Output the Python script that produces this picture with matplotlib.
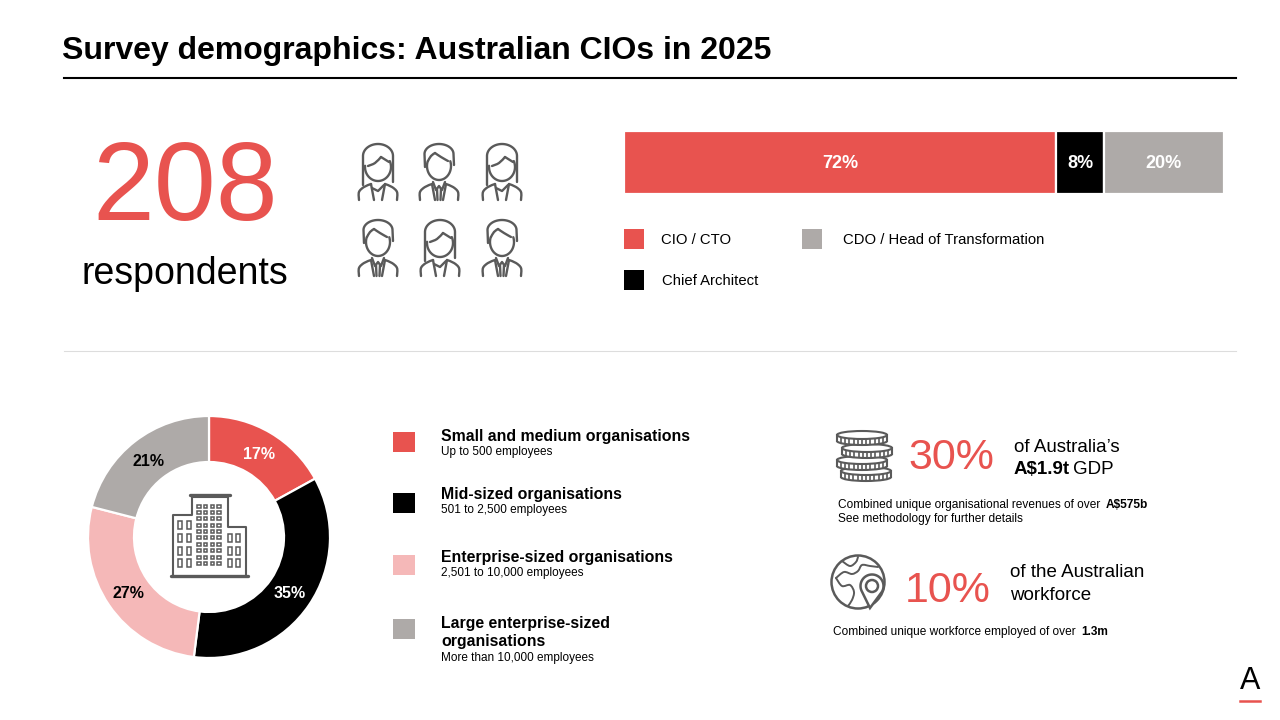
import matplotlib
matplotlib.use("Agg")
import matplotlib.pyplot as plt
from matplotlib.patches import Circle, Ellipse, Rectangle, PathPatch, Polygon
from matplotlib.path import Path
import numpy as np

plt.rcParams["font.family"] = ["Liberation Sans", "DejaVu Sans"]

RED = "#E8534F"
PINK = "#F5B8B8"
GREY = "#AEAAA8"
BLACK = "#000000"
ICON = "#5A5A5A"

role_names = ["CIO / CTO", "Chief Architect", "CDO / Head of Transformation"]
role_values = [72, 8, 20]
role_colors = [RED, BLACK, GREY]

size_names = ["Small and medium organisations", "Mid-sized organisations",
              "Enterprise-sized organisations", "Large enterprise-sized\norganisations"]
size_notes = ["Up to 500 employees", "501 to 2,500 employees",
              "2,501 to 10,000 employees", "More than 10,000 employees"]
size_values = [17, 35, 27, 21]
size_colors = [RED, BLACK, PINK, GREY]

fig = plt.figure(figsize=(12.8, 7.2), dpi=100, facecolor="white")

# whole page in pixel coords, y going down
ax = fig.add_axes([0, 0, 1, 1])
ax.set_xlim(0, 1280)
ax.set_ylim(720, 0)
ax.axis("off")


def sub_axes(x0, y0, x1, y1):
    return fig.add_axes([x0 / 1280, 1 - y1 / 720, (x1 - x0) / 1280, (y1 - y0) / 720])


def label(x, y, s, size, weight="normal", color="black", ha="left", **kw):
    # va=center sits a bit high for this font, nudge it down
    ax.text(x, y + size * 0.13, s, fontsize=size, fontweight=weight, color=color, ha=ha, va="center", **kw)


def curve(points, lw=1.7, color=ICON):
    pts = np.array(points, dtype=float)
    verts = [pts[0]]
    codes = [Path.MOVETO]
    for i in range(len(pts) - 1):
        p0 = pts[max(i - 1, 0)]
        p1 = pts[i]
        p2 = pts[i + 1]
        p3 = pts[min(i + 2, len(pts) - 1)]
        verts += [p1 + (p2 - p0) / 6, p2 - (p3 - p1) / 6, p2]
        codes += [Path.CURVE4] * 3
    ax.add_patch(PathPatch(Path(verts, codes), fill=False, ec=color, lw=lw, capstyle="round"))


def line(points, lw=1.7, color=ICON):
    pts = np.array(points, dtype=float)
    ax.plot(pts[:, 0], pts[:, 1], color=color, lw=lw, solid_capstyle="round")


def arc_pts(cx, cy, rx, ry, a0, a1):
    a = np.deg2rad(np.linspace(a0, a1, 40))
    return np.column_stack([cx + rx * np.cos(a), cy + ry * np.sin(a)])


def torso(cx, top):
    curve([(cx - 19, top + 56), (cx - 19, top + 48), (cx - 14, top + 43), (cx - 7, top + 40)])
    curve([(cx + 19, top + 56), (cx + 19, top + 48), (cx + 14, top + 43), (cx + 7, top + 40)])
    line([(cx - 7, top + 40), (cx - 4, top + 56)])
    line([(cx + 7, top + 40), (cx + 4, top + 56)])


def woman(cx, top):
    line(arc_pts(cx, top + 23, 13, 14, -25, 185))
    curve([(cx - 10, top + 22), (cx - 3, top + 19), (cx + 3, top + 13)])
    line([(cx + 3, top + 13), (cx + 11, top + 18)])
    hair = np.vstack([[(cx - 15, top + 41)], arc_pts(cx, top + 12, 15, 12, 180, 360), [(cx + 15, top + 38)]])
    line(hair)
    torso(cx, top)
    line([(cx - 6, top + 44), (cx, top + 47), (cx + 6, top + 41)])


def man(cx, top):
    line(arc_pts(cx, top + 22, 12, 14, -20, 200))
    curve([(cx - 11, top + 17), (cx - 8, top + 12), (cx - 4, top + 9)])
    curve([(cx - 4, top + 9), (cx + 2, top + 13), (cx + 9, top + 17)])
    hair = np.vstack([[(cx - 14, top + 23)], arc_pts(cx, top + 10, 14.5, 10, 180, 360), [(cx + 15, top + 21)]])
    line(hair)
    torso(cx, top)
    line([(cx - 6, top + 38), (cx - 3, top + 46), (cx, top + 42), (cx + 3, top + 46), (cx + 6, top + 38)])
    line([(cx - 2, top + 45), (cx - 1.5, top + 56)])
    line([(cx + 2, top + 45), (cx + 1.5, top + 56)])


def building():
    lw = 1.5
    line([(173, 575), (173, 515), (192, 515), (192, 497), (228, 497), (228, 527), (246, 527), (246, 575)], lw)
    line([(190, 495), (230, 495)], 2.4)
    line([(171, 576), (248, 576)], 2.4)
    for wx in [199, 205.7, 212.3, 219]:
        for wy in np.arange(506, 570, 6.4):
            ax.add_patch(Rectangle((wx - 1.7, wy - 1.5), 3.4, 3, fc="white", ec=ICON, lw=1.1))
    for wx in [180, 189]:
        for wy in [525, 538, 551, 563]:
            ax.add_patch(Rectangle((wx - 2, wy - 4), 4, 8, fc="white", ec=ICON, lw=1.1))
    for wx in [229.5, 238]:
        for wy in [538, 551, 563]:
            ax.add_patch(Rectangle((wx - 2, wy - 4), 4, 8, fc="white", ec=ICON, lw=1.1))


def coin(cx, cy, z):
    w, h, side = 50, 8, 6
    ax.add_patch(Ellipse((cx, cy + side), w, h, fc="white", ec=ICON, lw=1.5, zorder=z))
    ax.add_patch(Rectangle((cx - w / 2, cy), w, side, fc="white", ec="none", zorder=z + 0.1))
    for side_x in [cx - w / 2, cx + w / 2]:
        ax.plot([side_x, side_x], [cy, cy + side], color=ICON, lw=1.5, zorder=z + 0.2)
    for lx in np.arange(cx - 21, cx + 22, 4.2):
        low = cy + 4 * np.sqrt(1 - ((lx - cx) / 25) ** 2)
        ax.plot([lx, lx], [low + 0.5, low + side - 0.5], color=ICON, lw=1.2, zorder=z + 0.2)
    ax.add_patch(Ellipse((cx, cy), w, h, fc="white", ec=ICON, lw=1.5, zorder=z + 0.3))


def globe():
    ax.add_patch(Circle((858, 582), 26.5, fc="none", ec=ICON, lw=1.8))
    curve([(842, 561), (850, 566), (856, 562), (858, 557)], 1.4)
    curve([(836, 578), (844, 572), (852, 574), (858, 571), (862, 565), (870, 566), (878, 567)], 1.4)
    curve([(836, 578), (842, 586), (850, 585), (854, 592), (852, 600), (848, 606)], 1.4)
    outline = np.vstack([arc_pts(872, 586, 11.5, 11.5, 150, 390), [(870, 608)]])
    ax.add_patch(Polygon(outline, closed=True, fc="white", ec=ICON, lw=1.8, zorder=3))
    ax.add_patch(Circle((872, 586), 6, fc="white", ec=ICON, lw=1.8, zorder=4))


# title and rules
label(62, 48, "Survey demographics: Australian CIOs in 2025", 23, "bold")
ax.plot([64, 1236], [78, 78], color="black", lw=1.5)
ax.plot([64, 1236], [350.5, 350.5], color="#DDDDDD", lw=0.8)

ax.text(185, 220, "208", fontsize=80, color=RED, ha="center", va="baseline")
label(185, 270, "respondents", 27, ha="center")

woman(378, 144)
man(439, 144)
woman(502, 144)
man(378, 220)
woman(440, 220)
man(502, 220)

# stacked role bar
bar_ax = sub_axes(624, 131, 1224, 194)
left = 0
for val, col in zip(role_values, role_colors):
    bar_ax.barh(0, val, left=left, height=1, color=col, edgecolor="white", linewidth=1.6)
    bar_ax.text(left + val / 2, -0.02, f"{val}%", color="white", fontsize=13, fontweight="bold",
                ha="center", va="center")
    left += val
bar_ax.set_xlim(0, 100)
bar_ax.set_ylim(-0.5, 0.5)
bar_ax.axis("off")

role_pos = [(624, 239), (624, 280), (802, 239)]
role_text_x = [661, 662, 843]
for name, col, (lx, ly), tx in zip(role_names, role_colors, role_pos, role_text_x):
    ax.add_patch(Rectangle((lx, ly - 10), 20, 20, fc=col, ec="none"))
    label(tx, ly, name, 10.7)

# donut
pie_ax = sub_axes(209 - 122, 537 - 122, 209 + 122, 537 + 122)
wedges, _ = pie_ax.pie(size_values, colors=size_colors, startangle=90, counterclock=False, radius=1,
                       wedgeprops=dict(width=46 / 121, edgecolor="white", linewidth=1.6))
pie_ax.set_xlim(-122 / 121, 122 / 121)
pie_ax.set_ylim(-122 / 121, 122 / 121)
label_colors = ["white", "white", "black", "black"]
cum = 0
for val, col in zip(size_values, label_colors):
    ang = np.deg2rad(90 - (cum + val / 2) * 3.6)
    pie_ax.text(0.81 * np.cos(ang), 0.81 * np.sin(ang) - 0.012, f"{val}%", color=col, fontsize=11.5,
                fontweight="bold", ha="center", va="center")
    cum += val

building()

# size legend
size_sq_y = [442, 503, 565, 629]
size_name_y = [435, 493, 556, 631]
size_note_y = [451, 509, 572, 657]
for name, note, col, sy, ny, oy in zip(size_names, size_notes, size_colors, size_sq_y, size_name_y, size_note_y):
    ax.add_patch(Rectangle((393, sy - 10), 22, 20, fc=col, ec="none"))
    label(441, ny, name, 11.4, "bold", linespacing=1.3)
    label(441, oy, note, 8.5)

# right hand facts
coin(866, 471, 5)
coin(862, 460, 6)
coin(867, 448, 7)
coin(862, 435, 8)
label(908, 454, "30%", 31, color=RED)
label(1014, 446, "of Australia\u2019s", 13.5)
label(1014, 468, "A$1.9t", 13.5, "bold")
label(1073, 468, "GDP", 13.5)
label(838, 504, "Combined unique organisational revenues of over", 8.55)
label(1106, 504, "A$575b", 8.55, "bold")
label(838, 518, "See methodology for further details", 8.55)

globe()
label(905, 587, "10%", 31, color=RED)
label(1010, 571, "of the Australian", 13.5)
label(1010, 594, "workforce", 13.5)
label(833, 631, "Combined unique workforce employed of over", 8.55)
label(1081, 631, "1.3m", 8.55, "bold")

# logo
label(1250, 678, "A", 22, ha="center")
ax.plot([1240, 1260], [700.5, 700.5], color=RED, lw=1.8)

fig.savefig("out.png", dpi=100, facecolor="white")
